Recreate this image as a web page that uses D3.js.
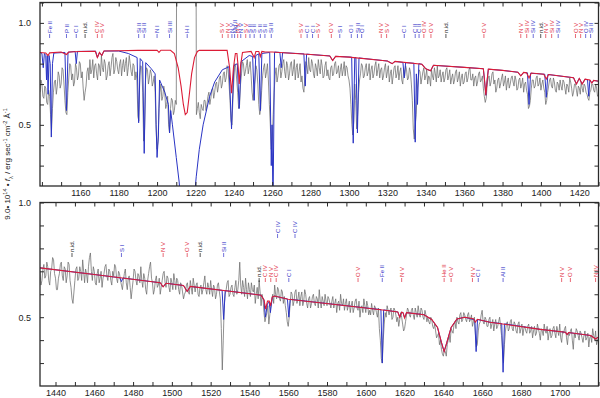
<!DOCTYPE html>
<html>
<head>
<meta charset="utf-8">
<script src="https://cdn.jsdelivr.net/npm/d3@7"></script>
<style>
  body { margin: 0; background: #fff; }
  svg { display: block; font-family: "Liberation Sans", Arial, sans-serif; }
</style>
</head>
<body>
<svg id="chart" width="600" height="398"></svg>
<script>
// observed flux on a 1 A grid, plus the half-step samples in between
const obsTopStart = 1139;
const obsTop = [
  0.66, 0.70, 0.63, 0.68, 0.60, 0.64, 0.47, 0.66, 0.72, 0.69,
  0.74, 0.70, 0.77, 0.62, 0.55, 0.73, 0.79, 0.75, 0.71, 0.78,
  0.74, 0.80, 0.76, 0.62, 0.69, 0.78, 0.82, 0.77, 0.73, 0.80,
  0.72, 0.79, 0.84, 0.76, 0.80, 0.74, 0.81, 0.78, 0.85, 0.77,
  0.81, 0.75, 0.82, 0.79, 0.76, 0.83, 0.78, 0.80, 0.74, 0.79,
  0.76, 0.54, 0.74, 0.78, 0.42, 0.72, 0.77, 0.73, 0.75, 0.71,
  0.66, 0.38, 0.58, 0.70, 0.64, 0.66, 0.60, 0.50, 0.58, 0.62,
  0.57, 0.60, 2.50, 2.50, 2.50, 2.50, 2.50, 2.50, 2.50, 2.50,
  2.50, 2.50, 0.58, 0.56, 0.60, 0.57, 0.62, 0.60, 0.66, 0.63,
  0.68, 0.66, 0.71, 0.69, 0.74, 0.70, 0.76, 0.73, 0.77, 0.62,
  0.50, 0.72, 0.78, 0.66, 0.60, 0.75, 0.80, 0.76, 0.82, 0.78,
  0.74, 0.62, 0.72, 0.77, 0.60, 0.58, 0.74, 0.80, 0.76, 0.72,
  0.50, 0.42, 0.66, 0.78, 0.74, 0.80, 0.76, 0.82, 0.73, 0.79,
  0.75, 0.81, 0.77, 0.72, 0.80, 0.76, 0.71, 0.68, 0.74, 0.79,
  0.83, 0.76, 0.80, 0.73, 0.78, 0.82, 0.75, 0.79, 0.74, 0.81,
  0.77, 0.72, 0.79, 0.75, 0.81, 0.76, 0.73, 0.80, 0.77, 0.74,
  0.78, 0.72, 0.60, 0.45, 0.70, 0.48, 0.66, 0.75, 0.79, 0.74,
  0.80, 0.76, 0.72, 0.79, 0.75, 0.81, 0.77, 0.73, 0.78, 0.74,
  0.80, 0.76, 0.71, 0.77, 0.74, 0.79, 0.75, 0.72, 0.78, 0.70,
  0.74, 0.77, 0.73, 0.76, 0.62, 0.43, 0.55, 0.72, 0.76, 0.73,
  0.78, 0.74, 0.70, 0.73, 0.77, 0.72, 0.75, 0.79, 0.74, 0.71,
  0.76, 0.73, 0.78, 0.74, 0.70, 0.75, 0.72, 0.77, 0.73, 0.69,
  0.75, 0.71, 0.76, 0.73, 0.78, 0.72, 0.69, 0.74, 0.71, 0.76,
  0.72, 0.68, 0.61, 0.70, 0.74, 0.71, 0.76, 0.72, 0.68, 0.73,
  0.70, 0.75, 0.71, 0.67, 0.73, 0.70, 0.74, 0.69, 0.72, 0.68,
  0.73, 0.70, 0.66, 0.71, 0.65, 0.59, 0.68, 0.72, 0.69, 0.74,
  0.70, 0.67, 0.72, 0.66, 0.62, 0.69, 0.73, 0.68, 0.71, 0.66,
  0.70, 0.72, 0.67, 0.71, 0.65, 0.69, 0.73, 0.68, 0.66, 0.70,
  0.64, 0.68, 0.71, 0.66, 0.69, 0.65, 0.62, 0.67, 0.70, 0.66,
  0.68, 0.65
];
const obsTopHalf = [
  0.72, 0.64, 0.69, 0.61, 0.67, 0.55, 0.58, 0.71, 0.65, 0.76,
  0.68, 0.78, 0.70, 0.56, 0.66, 0.80, 0.72, 0.69, 0.80, 0.72,
  0.81, 0.73, 0.68, 0.66, 0.76, 0.72, 0.75, 0.82, 0.79, 0.75,
  0.80, 0.74, 0.78, 0.82, 0.72, 0.79, 0.74, 0.83, 0.75, 0.83,
  0.77, 0.80, 0.74, 0.82, 0.80, 0.74, 0.84, 0.76, 0.80, 0.72,
  0.72, 0.52, 0.79, 0.66, 0.48, 0.78, 0.70, 0.77, 0.69, 0.74,
  0.48, 0.42, 0.66, 0.62, 0.69, 0.58, 0.64, 0.46, 0.63, 0.55,
  0.62, 2.50, 2.50, 2.50, 2.50, 2.50, 2.50, 2.50, 2.50, 2.50,
  2.50, 0.55, 0.61, 0.53, 0.58, 0.62, 0.57, 0.64, 0.60, 0.67,
  0.63, 0.70, 0.66, 0.73, 0.68, 0.75, 0.71, 0.79, 0.70, 0.52,
  0.62, 0.80, 0.72, 0.58, 0.70, 0.81, 0.74, 0.79, 0.75, 0.81,
  0.66, 0.68, 0.79, 0.70, 0.55, 0.67, 0.78, 0.73, 0.80, 0.60,
  0.38, 0.55, 0.74, 0.71, 0.79, 0.73, 0.80, 0.76, 0.81, 0.72,
  0.80, 0.74, 0.82, 0.78, 0.73, 0.80, 0.74, 0.66, 0.81, 0.75,
  0.77, 0.82, 0.75, 0.80, 0.74, 0.78, 0.82, 0.73, 0.79, 0.74,
  0.73, 0.78, 0.74, 0.80, 0.75, 0.79, 0.77, 0.74, 0.81, 0.79,
  0.74, 0.68, 0.50, 0.52, 0.62, 0.55, 0.72, 0.80, 0.73, 0.78,
  0.74, 0.80, 0.77, 0.73, 0.79, 0.74, 0.80, 0.77, 0.72, 0.78,
  0.73, 0.79, 0.75, 0.70, 0.78, 0.73, 0.79, 0.76, 0.72, 0.77,
  0.79, 0.72, 0.78, 0.70, 0.48, 0.50, 0.66, 0.77, 0.70, 0.76,
  0.72, 0.77, 0.74, 0.69, 0.74, 0.78, 0.71, 0.73, 0.77, 0.74,
  0.71, 0.77, 0.72, 0.77, 0.73, 0.70, 0.76, 0.71, 0.76, 0.73,
  0.70, 0.75, 0.71, 0.77, 0.72, 0.75, 0.73, 0.69, 0.75, 0.71,
  0.74, 0.64, 0.63, 0.73, 0.69, 0.75, 0.70, 0.66, 0.72, 0.68,
  0.73, 0.69, 0.74, 0.71, 0.68, 0.73, 0.71, 0.74, 0.67, 0.72,
  0.68, 0.73, 0.70, 0.67, 0.58, 0.62, 0.72, 0.68, 0.73, 0.69,
  0.73, 0.70, 0.68, 0.60, 0.66, 0.72, 0.69, 0.73, 0.67, 0.71,
  0.67, 0.69, 0.72, 0.68, 0.70, 0.66, 0.71, 0.64, 0.70, 0.67,
  0.69, 0.65, 0.68, 0.70, 0.66, 0.63, 0.66, 0.70, 0.67, 0.70,
  0.64
];
const obsBotStart = 1432;
const obsBot = [
  0.70, 0.66, 0.73, 0.68, 0.72, 0.64, 0.71, 0.75, 0.67, 0.62,
  0.69, 0.74, 0.66, 0.71, 0.68, 0.73, 0.63, 0.56, 0.66, 0.72,
  0.67, 0.70, 0.75, 0.65, 0.69, 0.72, 0.78, 0.66, 0.70, 0.64,
  0.71, 0.67, 0.63, 0.69, 0.73, 0.66, 0.70, 0.64, 0.68, 0.72,
  0.65, 0.69, 0.64, 0.66, 0.71, 0.62, 0.68, 0.58, 0.66, 0.70,
  0.64, 0.68, 0.72, 0.63, 0.67, 0.60, 0.69, 0.74, 0.65, 0.62,
  0.68, 0.64, 0.60, 0.66, 0.70, 0.63, 0.67, 0.61, 0.65, 0.69,
  0.62, 0.66, 0.60, 0.64, 0.58, 0.61, 0.65, 0.60, 0.63, 0.67,
  0.61, 0.65, 0.59, 0.64, 0.62, 0.68, 0.60, 0.63, 0.66, 0.59,
  0.63, 0.60, 0.65, 0.58, 0.27, 0.55, 0.62, 0.66, 0.60, 0.64,
  0.59, 0.66, 0.62, 0.74, 0.60, 0.63, 0.67, 0.58, 0.62, 0.65,
  0.61, 0.56, 0.63, 0.66, 0.55, 0.58, 0.48, 0.52, 0.47, 0.55,
  0.60, 0.64, 0.58, 0.62, 0.57, 0.61, 0.59, 0.52, 0.46, 0.56,
  0.60, 0.57, 0.62, 0.58, 0.55, 0.61, 0.57, 0.60, 0.54, 0.59,
  0.56, 0.60, 0.55, 0.58, 0.62, 0.54, 0.57, 0.60, 0.55, 0.58,
  0.54, 0.59, 0.56, 0.52, 0.57, 0.60, 0.55, 0.53, 0.58, 0.55,
  0.52, 0.57, 0.54, 0.58, 0.53, 0.50, 0.55, 0.58, 0.52, 0.55,
  0.53, 0.56, 0.51, 0.54, 0.50, 0.45, 0.32, 0.40, 0.52, 0.55,
  0.51, 0.54, 0.50, 0.53, 0.48, 0.46, 0.52, 0.47, 0.45, 0.51,
  0.53, 0.50, 0.54, 0.49, 0.52, 0.55, 0.50, 0.53, 0.49, 0.51,
  0.50, 0.47, 0.49, 0.45, 0.44, 0.42, 0.38, 0.36, 0.33, 0.35,
  0.38, 0.42, 0.45, 0.43, 0.48, 0.50, 0.47, 0.52, 0.49, 0.51,
  0.48, 0.52, 0.49, 0.46, 0.50, 0.37, 0.44, 0.48, 0.53, 0.47,
  0.49, 0.46, 0.50, 0.47, 0.44, 0.49, 0.46, 0.50, 0.42, 0.30,
  0.44, 0.48, 0.45, 0.49, 0.44, 0.47, 0.43, 0.48, 0.45, 0.42,
  0.46, 0.43, 0.47, 0.44, 0.41, 0.46, 0.43, 0.45, 0.40, 0.44,
  0.47, 0.43, 0.40, 0.45, 0.42, 0.46, 0.41, 0.44, 0.47, 0.39,
  0.43, 0.46, 0.38, 0.42, 0.45, 0.36, 0.41, 0.44, 0.40, 0.43,
  0.39, 0.44, 0.41, 0.37, 0.42, 0.45, 0.40, 0.38, 0.41
];
const obsBotHalf = [
  0.64, 0.71, 0.67, 0.74, 0.66, 0.70, 0.76, 0.69, 0.62, 0.67,
  0.73, 0.68, 0.72, 0.65, 0.74, 0.66, 0.58, 0.61, 0.71, 0.66,
  0.72, 0.66, 0.70, 0.71, 0.65, 0.76, 0.70, 0.72, 0.65, 0.69,
  0.65, 0.70, 0.67, 0.72, 0.68, 0.71, 0.66, 0.70, 0.73, 0.67,
  0.70, 0.66, 0.62, 0.69, 0.65, 0.67, 0.63, 0.62, 0.71, 0.66,
  0.69, 0.65, 0.66, 0.69, 0.62, 0.66, 0.72, 0.67, 0.60, 0.66,
  0.63, 0.67, 0.63, 0.69, 0.65, 0.68, 0.63, 0.67, 0.62, 0.66,
  0.67, 0.62, 0.65, 0.61, 0.60, 0.64, 0.61, 0.66, 0.60, 0.64,
  0.64, 0.60, 0.63, 0.60, 0.65, 0.62, 0.65, 0.60, 0.62, 0.64,
  0.58, 0.64, 0.61, 0.45, 0.40, 0.60, 0.65, 0.59, 0.63, 0.60,
  0.63, 0.60, 0.66, 0.64, 0.66, 0.59, 0.62, 0.65, 0.59, 0.62,
  0.64, 0.60, 0.58, 0.61, 0.60, 0.52, 0.50, 0.55, 0.51, 0.57,
  0.56, 0.60, 0.63, 0.58, 0.62, 0.56, 0.55, 0.48, 0.50, 0.61,
  0.55, 0.61, 0.56, 0.61, 0.59, 0.55, 0.62, 0.56, 0.58, 0.54,
  0.59, 0.56, 0.59, 0.54, 0.57, 0.59, 0.55, 0.57, 0.59, 0.56,
  0.57, 0.54, 0.58, 0.56, 0.53, 0.56, 0.58, 0.56, 0.53, 0.57,
  0.55, 0.52, 0.57, 0.54, 0.57, 0.54, 0.52, 0.55, 0.57, 0.51,
  0.51, 0.53, 0.55, 0.52, 0.54, 0.40, 0.30, 0.47, 0.50, 0.53,
  0.53, 0.49, 0.54, 0.51, 0.50, 0.49, 0.50, 0.44, 0.48, 0.54,
  0.51, 0.53, 0.51, 0.54, 0.50, 0.52, 0.54, 0.50, 0.53, 0.48,
  0.48, 0.50, 0.46, 0.47, 0.41, 0.43, 0.40, 0.34, 0.36, 0.33,
  0.40, 0.39, 0.44, 0.47, 0.45, 0.48, 0.51, 0.48, 0.52, 0.49,
  0.51, 0.48, 0.51, 0.48, 0.43, 0.38, 0.47, 0.51, 0.48, 0.50,
  0.46, 0.49, 0.45, 0.49, 0.47, 0.45, 0.48, 0.46, 0.36, 0.38,
  0.47, 0.44, 0.48, 0.45, 0.48, 0.44, 0.47, 0.43, 0.47, 0.45,
  0.44, 0.46, 0.43, 0.46, 0.44, 0.42, 0.47, 0.43, 0.45, 0.42,
  0.44, 0.46, 0.43, 0.41, 0.45, 0.43, 0.46, 0.42, 0.41, 0.44,
  0.45, 0.41, 0.43, 0.44, 0.40, 0.43, 0.45, 0.42, 0.44, 0.41,
  0.42, 0.40, 0.43, 0.41, 0.39, 0.42, 0.44, 0.40
];

// photospheric model (red), [wavelength, flux]
const redTop = [
  [1139,0.855],[1142,0.852],[1143.2,0.84],[1144,0.853],[1150,0.857],[1152.8,0.845],[1154,0.857],
  [1160,0.86],[1167.8,0.861],[1168.9,0.83],[1170,0.855],[1171.2,0.84],[1172.3,0.862],[1180,0.863],
  [1190,0.865],[1200,0.866],[1201,0.855],[1202,0.866],[1207,0.866],[1209,0.85],[1211,0.78],
  [1212.5,0.69],[1213.7,0.6],[1214.7,0.55],[1215.7,0.56],[1216.7,0.64],[1218,0.75],[1219.5,0.83],
  [1221,0.86],[1222,0.866],[1236.5,0.865],[1237.8,0.78],[1238.8,0.655],[1239.8,0.78],[1240.8,0.85],
  [1241.6,0.85],[1242.3,0.78],[1242.8,0.70],[1243.5,0.79],[1244.5,0.855],[1249,0.86],[1250.6,0.83],
  [1251.5,0.86],[1253,0.86],[1253.8,0.835],[1254.6,0.86],[1256,0.858],[1260,0.857],[1280,0.845],
  [1290,0.838],[1291.5,0.815],[1293,0.836],[1300,0.832],[1320,0.813],[1322.5,0.80],[1324,0.811],
  [1338,0.797],[1340,0.775],[1342.5,0.765],[1344,0.792],[1360,0.782],[1370,0.775],[1370.6,0.72],
  [1371.3,0.645],[1372,0.72],[1372.6,0.773],[1380,0.767],[1388,0.758],[1389.5,0.74],[1391,0.757],
  [1392.5,0.755],[1393.8,0.73],[1395,0.754],[1401.5,0.748],[1402.8,0.725],[1404,0.747],[1417,0.731],
  [1418.5,0.70],[1420,0.728],[1421.5,0.70],[1423,0.724],[1425.5,0.72],[1426.5,0.705],[1427.5,0.718],
  [1430,0.714]
];
const redBot = [
  [1432,0.715],[1460,0.686],[1494,0.65],[1495.5,0.632],[1497,0.648],[1506,0.638],[1507.9,0.612],
  [1509.5,0.634],[1546,0.596],[1547.5,0.575],[1548.4,0.535],[1549.3,0.57],[1550.2,0.57],[1550.9,0.55],
  [1551.8,0.588],[1553,0.592],[1560,0.578],[1590,0.55],[1612,0.528],[1616.5,0.523],[1617.5,0.5],
  [1618.5,0.522],[1619.2,0.52],[1620,0.497],[1621,0.52],[1630,0.511],[1634,0.49],[1637,0.455],
  [1639,0.39],[1640.4,0.35],[1641.8,0.39],[1644,0.455],[1647,0.492],[1651,0.5],[1655.5,0.493],
  [1656.5,0.478],[1657.5,0.491],[1664,0.478],[1690,0.447],[1703,0.434],[1703.8,0.424],[1704.6,0.433],
  [1716,0.42],[1718.5,0.405],[1720,0.414]
];

// model with interstellar lines (blue)
const blueTop = [
  [1139,0.855],[1140,0.85],[1140.7,0.78],[1141.3,0.85],[1142,0.84],[1142.4,0.72],[1142.8,0.84],
  [1143.2,0.65],[1143.7,0.84],[1144.3,0.8],[1144.9,0.44],[1145.5,0.8],[1146.2,0.852],[1152,0.855],
  [1152.8,0.57],[1153.6,0.856],[1157.3,0.86],[1157.9,0.80],[1158.5,0.86],[1168,0.861],[1168.9,0.83],
  [1170,0.855],[1171.2,0.84],[1172.3,0.862],[1180,0.862],[1185,0.85],[1189.6,0.83],[1190.4,0.51],
  [1191.2,0.825],[1192.5,0.81],[1193.3,0.36],[1194.1,0.805],[1197,0.775],[1199,0.75],[1199.5,0.5],
  [1200,0.34],[1200.7,0.45],[1201.3,0.72],[1204,0.66],[1205.9,0.6],[1206.5,0.46],[1207.1,0.57],
  [1208,0.5],[1210,0.34],[1211.5,0.22],[1212.5,0.1],[1219,0.1],[1220.4,0.245],[1222,0.38],
  [1224,0.5],[1227.4,0.64],[1230,0.71],[1234,0.77],[1237.5,0.785],[1238.8,0.48],[1240,0.79],
  [1241.8,0.8],[1242.8,0.58],[1243.8,0.81],[1248,0.84],[1249.8,0.835],[1250.6,0.62],[1251.4,0.84],
  [1253,0.848],[1253.8,0.57],[1254.6,0.85],[1258.7,0.855],[1259.5,0.3],[1259.9,0.5],[1260.4,0.1],
  [1261.2,0.857],[1264,0.855],[1264.7,0.78],[1265.4,0.854],[1276.5,0.848],[1277.2,0.69],
  [1277.9,0.847],[1280,0.845],[1290,0.838],[1291.5,0.815],[1293,0.836],[1301.4,0.832],[1302.2,0.41],
  [1303,0.83],[1303.6,0.83],[1304.4,0.46],[1305.2,0.828],[1320,0.813],[1322.5,0.80],[1324,0.811],
  [1328.1,0.806],[1328.8,0.73],[1329.5,0.805],[1333.8,0.802],[1334.5,0.415],[1335.1,0.75],
  [1335.7,0.6],[1336.4,0.80],[1338,0.797],[1340,0.775],[1342.5,0.765],[1344,0.792],[1360,0.782],
  [1370,0.775],[1370.6,0.72],[1371.3,0.645],[1372,0.72],[1372.6,0.773],[1380,0.767],[1388,0.758],
  [1389.5,0.74],[1391,0.757],[1393,0.755],[1393.8,0.60],[1394.6,0.753],[1402,0.748],[1402.8,0.635],
  [1403.6,0.747],[1417,0.731],[1418.5,0.70],[1420,0.728],[1421.5,0.70],[1423,0.724],[1424.3,0.72],
  [1424.9,0.64],[1425.5,0.72],[1426.5,0.705],[1427.5,0.718],[1430,0.714]
];
const blueBot = [
  [1432,0.715],[1460,0.686],[1473.2,0.672],[1474,0.655],[1474.8,0.671],[1494,0.65],[1495.5,0.632],
  [1497,0.648],[1506,0.638],[1507.9,0.612],[1509.5,0.634],[1525.9,0.617],[1526.7,0.49],[1527.5,0.616],
  [1546,0.596],[1547.5,0.575],[1548.2,0.50],[1549.3,0.56],[1550.2,0.565],[1550.8,0.52],[1551.8,0.588],
  [1553,0.592],[1559.6,0.579],[1560.3,0.50],[1561,0.578],[1590,0.55],[1607.8,0.533],[1608.5,0.30],
  [1609.2,0.532],[1612,0.528],[1616.5,0.523],[1617.5,0.5],[1618.5,0.522],[1619.2,0.52],[1620,0.497],
  [1621,0.52],[1630,0.511],[1634,0.49],[1637,0.455],[1639,0.39],[1640.4,0.35],[1641.8,0.39],
  [1644,0.455],[1647,0.492],[1651,0.5],[1656.2,0.488],[1656.9,0.35],[1657.6,0.49],[1664,0.478],
  [1670.1,0.472],[1670.8,0.26],[1671.5,0.471],[1690,0.447],[1703,0.434],[1703.8,0.424],
  [1704.6,0.433],[1716,0.42],[1718.5,0.405],[1720,0.414]
];

// line identifications: [wavelength, label, kind]
const idsTop = [
  [1144.0,"Fe II","ism"],[1152.8,"P II","ism"],[1157.9,"C I","ism"],[1162.5,"n.id.","nid"],
  [1168.9,"C IV","ph"],[1171.3,"S V","ph"],[1190.4,"Si II","ism"],[1193.3,"Si II","ism"],
  [1200.0,"N I","ism"],[1206.5,"Si III","ism"],[1215.7,"H I","ism"],
  [1234.0,"S V","ph"],[1237.0,"N V","ph"],[1239.0,"N V","ism"],[1240.4,"Mg II","ism"],
  [1242.0,"N V","ph"],[1243.6,"N V","ism"],[1246.2,"S V","ph"],[1248.4,"S II","ism"],
  [1250.6,"S II","ism"],[1253.8,"S II","ism"],[1256.2,"S II","ism"],[1259.5,"Si II","ism"],
  [1275.0,"S V","ph"],[1278.2,"C I","ism"],[1281.0,"C I","ism"],[1284.0,"S V","ph"],
  [1290.8,"O V","ph"],[1295.2,"S I","ism"],[1301.2,"O I","ism"],[1304.4,"Si II","ism"],
  [1306.6,"O I","ism"],[1316.8,"N V","ph"],[1319.6,"S V","ph"],[1328.8,"C I","ism"],
  [1334.5,"C II","ism"],[1336.5,"C II","ism"],[1339.0,"O IV","ph"],[1342.7,"O V","ph"],
  [1350.5,"n.id.","nid"],[1370.3,"O V","ph"],[1389.5,"N V","ph"],[1392.6,"Si IV","ph"],
  [1396.0,"Si IV","ism"],[1399.9,"n.id.","nid"],[1402.5,"N V","ph"],[1405.6,"Si IV","ph"],
  [1409.0,"Si IV","ism"],[1418.0,"O V","ph"],[1420.7,"N V","ph"],[1423.3,"O IV","ism"],
  [1425.9,"Si II","ism"]
];
// tier 0 = low row, 1 = middle row, 2 = upper row
const idsBot = [
  [1448.5,"n.id.","nid",1],[1474.0,"S I","ism",1],[1495.5,"N V","ph",1],[1507.9,"O V","ph",1],
  [1514.6,"n.id.","nid",1],[1526.7,"Si II","ism",1],[1545.0,"n.id.","nid",0],[1548.2,"C IV","ph",0],
  [1551.0,"N V","ph",0],[1553.8,"C IV","ph",0],[1554.5,"C IV","ism",2],[1560.3,"C I","ism",0],
  [1563.5,"C IV","ism",2],[1596.0,"O V","ph",0],[1608.5,"Fe II","ism",0],[1618.5,"N V","ph",0],
  [1640.4,"He II","ph",0],[1644.0,"O V","ph",0],[1655.0,"N V","ph",0],[1658.0,"C I","ism",0],
  [1670.8,"Al II","ism",0],[1701.0,"N V","ph",0],[1705.5,"O V","ph",0],[1718.5,"N IV","ph",0]
];

const xLabelsTop = [1160,1180,1200,1220,1240,1260,1280,1300,1320,1340,1360,1380,1400,1420];
const xLabelsBot = [1440,1460,1480,1500,1520,1540,1560,1580,1600,1620,1640,1660,1680,1700];
const yLabels = [0.5, 1.0];

const left = 40, right = 598.5;
const idColor = { ism: "#3434c8", ph: "#e0283a", nid: "#111" };
const svg = d3.select("#chart");

// merge whole-step and half-step samples into one wavelength-sorted series
function observed(start, whole, half) {
  return whole.map((f, i) => [start + i, f])
    .concat(half.map((f, i) => [start + i + 0.5, f]))
    .sort((a, b) => a[0] - b[0]);
}

const panels = [
  { name: "top", xDomain: [1139, 1430], yDomain: [0.2, 1.1], top: 2.5, bottom: 186,
    obs: observed(obsTopStart, obsTop, obsTopHalf), red: redTop, blue: blueTop, ids: idsTop,
    xLabels: xLabelsTop, idBase: () => 38 },
  { name: "bot", xDomain: [1432, 1720], yDomain: [0.2, 1.0], top: 202.5, bottom: 386,
    obs: observed(obsBotStart, obsBot, obsBotHalf), red: redBot, blue: blueBot, ids: idsBot,
    xLabels: xLabelsBot, idBase: d => [282, 257, 238][d[3]] }
];

panels.forEach(p => {
  const x = d3.scaleLinear().domain(p.xDomain).range([left, right]);
  const y = d3.scaleLinear().domain(p.yDomain).range([p.bottom, p.top]);
  const line = d3.line().x(d => x(d[0])).y(d => y(d[1]));

  svg.append("clipPath").attr("id", "clip-" + p.name)
    .append("rect")
    .attr("x", left).attr("y", p.top)
    .attr("width", right - left).attr("height", p.bottom - p.top);

  const plot = svg.append("g").attr("clip-path", `url(#clip-${p.name})`);

  // observed spectrum
  plot.append("path")
    .datum(p.obs)
    .attr("d", line)
    .attr("fill", "none")
    .attr("stroke", "#6c6c6c")
    .attr("stroke-width", 0.75);

  // model incl. ISM
  plot.append("path")
    .datum(p.blue)
    .attr("d", line)
    .attr("fill", "none")
    .attr("stroke", "#2a34c4")
    .attr("stroke-width", 1);

  // photospheric model
  plot.append("path")
    .datum(p.red)
    .attr("d", line)
    .attr("fill", "none")
    .attr("stroke", "#dc1c36")
    .attr("stroke-width", 1.1);

  // axes, ticks inward on all sides
  const minorX = d3.range(Math.ceil(p.xDomain[0] / 10) * 10, p.xDomain[1] + 0.1, 10);
  const yTicks = d3.range(3, Math.round(p.yDomain[1] * 10) + 1).map(v => v / 10);

  svg.append("g")
    .attr("class", "axis")
    .attr("transform", `translate(0,${p.bottom})`)
    .call(d3.axisBottom(x).tickValues(minorX).tickSize(-4)
      .tickFormat(d => p.xLabels.includes(d) ? d : "").tickPadding(4));

  svg.append("g")
    .attr("class", "axis")
    .attr("transform", `translate(0,${p.top})`)
    .call(d3.axisTop(x).tickValues(minorX).tickSize(-4).tickFormat(""));

  svg.append("g")
    .attr("class", "axis")
    .attr("transform", `translate(${left},0)`)
    .call(d3.axisLeft(y).tickValues(yTicks).tickSize(-4)
      .tickFormat(d => yLabels.some(v => Math.abs(v - d) < 1e-6) ? d3.format(".1f")(d) : "").tickPadding(9));

  svg.append("g")
    .attr("class", "axis")
    .attr("transform", `translate(${right},0)`)
    .call(d3.axisRight(y).tickValues(yTicks).tickSize(-4).tickFormat(""));

  // frame
  svg.append("rect")
    .attr("x", left).attr("y", p.top)
    .attr("width", right - left).attr("height", p.bottom - p.top)
    .attr("fill", "none")
    .attr("stroke", "#2a2a2a")
    .attr("stroke-width", 1.3);

  // line identifications
  const idG = svg.append("g").attr("font-size", 6);
  idG.selectAll("g")
    .data(p.ids)
    .join("g")
    .attr("transform", d => `translate(${x(d[0])},${p.idBase(d)}) rotate(-90)`)
    .each(function (d) {
      const s = d3.select(this);
      s.append("line").attr("x1", 0).attr("x2", 4)
        .attr("stroke", idColor[d[2]]).attr("stroke-width", 0.7);
      s.append("text").attr("x", 5).attr("dy", "0.35em")
        .attr("fill", idColor[d[2]]).text(d[1]);
    });
});

svg.selectAll(".axis .domain").remove();
svg.selectAll(".axis line").attr("stroke", "#2a2a2a");
svg.selectAll(".axis text").attr("font-size", 9).attr("fill", "#222")
  .attr("font-family", "'Liberation Sans', Arial, sans-serif");

// y axis title
const yt = svg.append("text")
  .attr("transform", "translate(10,164) rotate(-90)")
  .attr("text-anchor", "middle")
  .attr("font-size", 8)
  .attr("fill", "#222");
yt.append("tspan").text("9.0\u2022 10");
yt.append("tspan").attr("baseline-shift", "super").attr("font-size", 5.5).text("14");
yt.append("tspan").text(" \u2022 ");
yt.append("tspan").attr("font-style", "italic").text("f");
yt.append("tspan").attr("baseline-shift", "sub").attr("font-size", 5.5).text("\u03bb");
yt.append("tspan").text(" / erg sec");
yt.append("tspan").attr("baseline-shift", "super").attr("font-size", 5.5).text("-1");
yt.append("tspan").text(" cm");
yt.append("tspan").attr("baseline-shift", "super").attr("font-size", 5.5).text("-2");
yt.append("tspan").text(" \u00c5");
yt.append("tspan").attr("baseline-shift", "super").attr("font-size", 5.5).text("-1");
</script>
</body>
</html>
